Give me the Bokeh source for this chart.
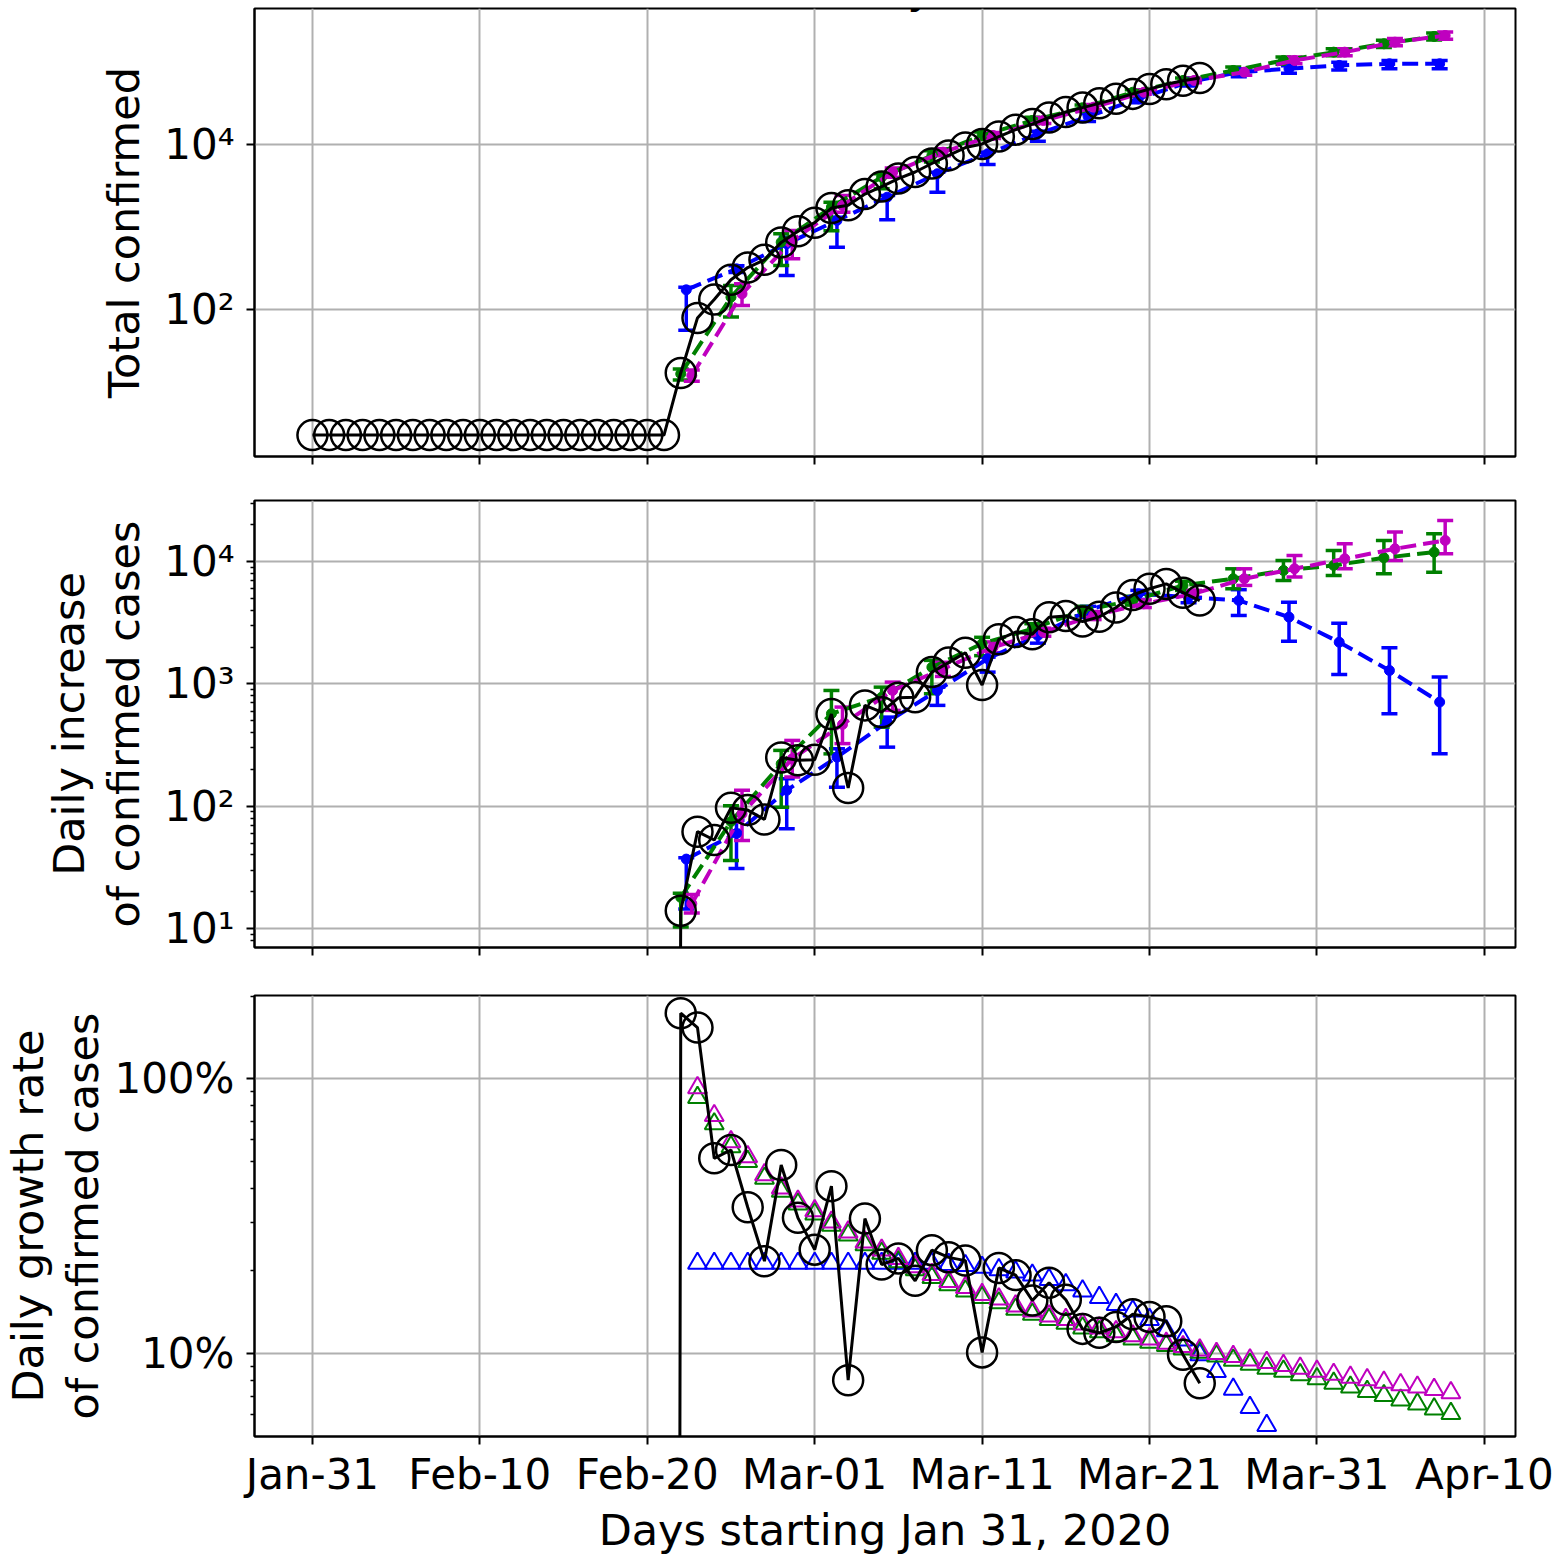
import numpy as np
from bokeh.plotting import figure
from bokeh.layouts import column
from bokeh.models import (FixedTicker, CustomJSTickFormatter, NumeralTickFormatter, Whisker,
                          TeeHead, ColumnDataSource, Range1d, Label)
from bokeh.embed import file_html
from bokeh.resources import INLINE

# ---------------- data ----------------
tick_days = [0, 10, 20, 30, 40, 50, 60, 70]
tick_labels = ["Jan-31", "Feb-10", "Feb-20", "Mar-01", "Mar-11", "Mar-21", "Mar-31", "Apr-10"]
country = "Italy"

# observed (black), day index 0 = Jan 31
obs_days = list(range(0, 54))
obs_total = [3, 3, 3, 3, 3, 3, 3, 3, 3, 3, 3, 3, 3, 3, 3, 3, 3, 3, 3, 3, 3, 3,
             17, 79, 132, 229, 322, 400, 650, 888, 1128, 1694, 1835, 2502, 3089, 3858,
             4636, 5883, 7375, 9172, 10149, 12462, 15113, 17660, 21157, 24747, 27980,
             31506, 35713, 41035, 47021, 53578, 59138, 63927]
inc_days = list(range(1, 54))
obs_daily = [0, 0, 0, 0, 0, 0, 0, 0, 0, 0, 0, 0, 0, 0, 0, 0, 0, 0, 0, 0, 0,
             14, 62, 53, 97, 93, 78, 250, 238, 240, 566, 141, 667, 587, 769, 778,
             1247, 1492, 1797, 977, 2313, 2651, 2547, 3497, 3590, 3233, 3526, 4207,
             5322, 5986, 6557, 5560, 4789]
obs_growth = [0, 0, 0, 0, 0, 0, 0, 0, 0, 0, 0, 0, 0, 0, 0, 0, 0, 0, 0, 0, 0,
              1.735, 1.537, 0.514, 0.551, 0.341, 0.217, 0.486, 0.312, 0.239, 0.407,
              0.080, 0.310, 0.211, 0.222, 0.184, 0.238, 0.224, 0.218, 0.101, 0.205,
              0.193, 0.156, 0.181, 0.157, 0.123, 0.119, 0.125, 0.139, 0.136, 0.131,
              0.099, 0.078]

# model predictions every 3 days
model_days = [22, 25, 28, 31, 34, 37, 40, 43, 46, 49, 52, 55, 58, 61, 64, 67]

blue_total = [173, 311, 626, 1200, 2296, 4418, 7715, 13480, 21800, 35800, 56900, 75200, 82700, 90800, 95000, 95000]
blue_total_lo = [56, 280, 258, 569, 1222, 2640, 5725, 10960, 19000, 32000, 51000, 66000, 73000, 80000, 83000, 83000]
blue_total_hi = [186, 340, 753, 1315, 2410, 4620, 8070, 14500, 23500, 39000, 62000, 82000, 90000, 99000, 104000, 104000]

green_total = [16.6, 141, 654, 1740, 4020, 7360, 12850, 19540, 27870, 43000, 59700, 78900, 104300, 131500, 166000, 203700]
green_total_lo = [14, 81, 341, 900, 2900, 6110, 11500, 17800, 25800, 40000, 56000, 71000, 94000, 119000, 150000, 184000]
green_total_hi = [19, 195, 827, 2000, 4420, 8400, 14200, 21300, 30000, 46000, 64000, 87000, 115000, 145000, 183000, 225000]

magenta_total = [15.8, 155, 686, 1820, 4620, 8070, 12850, 19540, 28300, 43000, 59700, 75200, 104300, 131500, 173800, 209000]
magenta_total_lo = [13.5, 112, 411, 1510, 4000, 7300, 11800, 18000, 26300, 40500, 56000, 69000, 95000, 119000, 157000, 189000]
magenta_total_hi = [18.5, 205, 907, 2410, 5200, 8900, 14000, 21200, 30500, 46000, 64000, 82000, 115000, 145000, 192000, 231000]

blue_daily = [37, 60, 135, 252, 487, 883, 1604, 2480, 3980, 5450, 5110, 4800, 3510, 2190, 1285, 710]
blue_daily_lo = [14.5, 31, 65.5, 143, 304, 667, 1247, 2150, 3500, 4900, 4600, 3620, 2230, 1195, 571, 269]
blue_daily_hi = [38, 77, 168, 295, 535, 940, 1652, 2650, 4300, 5800, 5600, 5880, 4650, 3130, 1970, 1135]

green_daily = [18, 75, 222, 570, 778, 1368, 2130, 2820, 3980, 4800, 6370, 7230, 8440, 9280, 10720, 11900]
green_daily_lo = [10.3, 36, 98, 268, 443, 830, 1700, 2450, 3600, 4400, 5800, 5980, 7000, 7690, 7940, 8180]
green_daily_hi = [19.5, 101, 286, 883, 940, 1555, 2400, 3100, 4300, 5200, 6900, 8710, 10190, 12300, 14850, 16830]

magenta_daily = [16, 87, 244, 466, 883, 1327, 1995, 2640, 3620, 4510, 5450, 7230, 8710, 10520, 12700, 14850]
magenta_daily_lo = [13.4, 52.5, 173, 325, 607, 1150, 1800, 2450, 3350, 4200, 5100, 6370, 7450, 8710, 10190, 11560]
magenta_daily_hi = [19, 135, 345, 646, 1033, 1500, 2200, 2850, 3900, 4850, 5800, 8710, 11190, 13950, 17370, 21600]

# model daily growth rates (triangles)
growth_days = list(range(23, 69))
magenta_growth = [0.928, 0.735, 0.590, 0.521, 0.448, 0.401, 0.359, 0.331, 0.301, 0.277, 0.255,
                  0.238, 0.222, 0.207, 0.194, 0.183, 0.174, 0.164, 0.158, 0.149, 0.143, 0.137,
                  0.133, 0.128, 0.124, 0.120, 0.116, 0.113, 0.109, 0.106, 0.103, 0.100, 0.0976,
                  0.0948, 0.0928, 0.0905, 0.0885, 0.0862, 0.0840, 0.0820, 0.0803, 0.0786,
                  0.0770, 0.0755, 0.0740, 0.0720]
green_growth = [0.855, 0.686, 0.566, 0.500, 0.435, 0.390, 0.350, 0.322, 0.293, 0.270, 0.249,
                0.232, 0.216, 0.202, 0.189, 0.178, 0.169, 0.160, 0.153, 0.145, 0.139, 0.133,
                0.129, 0.124, 0.120, 0.116, 0.113, 0.110, 0.107, 0.104, 0.101, 0.098, 0.0945,
                0.0915, 0.0885, 0.0862, 0.0837, 0.0810, 0.0780, 0.0755, 0.0728, 0.0703,
                0.0677, 0.0655, 0.0628, 0.0605]
blue_growth_days = list(range(23, 58))
blue_growth = [0.213, 0.213, 0.213, 0.213, 0.213, 0.213, 0.213, 0.213, 0.213, 0.213, 0.213,
               0.213, 0.213, 0.213, 0.213, 0.211, 0.209, 0.206, 0.202, 0.198, 0.193, 0.186,
               0.178, 0.169, 0.160, 0.151, 0.143, 0.133, 0.121, 0.112, 0.099, 0.086, 0.0741,
               0.0636, 0.0547]

# ---------------- styling ----------------
FONT = "DejaVu Sans"
TICK_FS = "42px"
LABEL_FS = "43px"
W = 1568
BLUE, GREEN, MAG, BLACK = "#0000ff", "#008000", "#bf00bf", "#000000"
GRID = "#b0b0b0"
x_range = Range1d(-3.46, 71.86)

sup_js = """
const sup = {'0':'\\u2070','1':'\\u00b9','2':'\\u00b2','3':'\\u00b3','4':'\\u2074',
             '5':'\\u2075','6':'\\u2076','7':'\\u2077','8':'\\u2078','9':'\\u2079','-':'\\u207b'};
const e = Math.round(Math.log10(tick));
return '10' + String(e).split('').map(c => sup[c]).join('');
"""


def make_fig(height, y_range, top, bottom, yticks, yminor, ylabel, show_xlabels, ylab_standoff):
    p = figure(width=W, height=height, y_axis_type="log", x_range=x_range, y_range=y_range,
               output_backend="svg", toolbar_location=None,
               min_border_left=252, min_border_right=53, min_border_top=top, min_border_bottom=bottom)
    p.background_fill_color = "white"
    p.border_fill_color = "white"
    p.outline_line_color = "black"
    p.outline_line_width = 2
    p.outline_line_alpha = 1

    xa = p.xaxis[0]
    xa.ticker = FixedTicker(ticks=tick_days)
    xa.major_label_overrides = {d: lab for d, lab in zip(tick_days, tick_labels)}
    xa.axis_line_color = "black"
    xa.axis_line_width = 2
    xa.major_tick_out = 8
    xa.major_tick_in = 0
    xa.major_tick_line_width = 2
    xa.minor_tick_line_color = None
    xa.major_label_text_font = FONT
    if show_xlabels:
        xa.major_label_text_font_size = TICK_FS
        xa.major_label_text_color = "black"
        xa.major_label_standoff = 5
        xa.axis_label = "Days starting Jan 31, 2020"
        xa.axis_label_text_font = FONT
        xa.axis_label_text_font_size = LABEL_FS
        xa.axis_label_text_font_style = "normal"
        xa.axis_label_text_color = "black"
        xa.axis_label_standoff = 3
    else:
        # shared date axis: tick marks only, labels shown on the bottom panel
        xa.major_label_text_font_size = "10px"
        xa.major_label_text_color = None
        xa.major_label_standoff = 0

    ya = p.yaxis[0]
    ya.ticker = FixedTicker(ticks=yticks, minor_ticks=yminor)
    ya.axis_line_color = "black"
    ya.axis_line_width = 2
    ya.major_tick_out = 8
    ya.major_tick_in = 0
    ya.major_tick_line_width = 2
    ya.minor_tick_out = 4
    ya.minor_tick_in = 0
    ya.minor_tick_line_width = 1.5
    ya.major_label_text_font = FONT
    ya.major_label_text_font_size = TICK_FS
    ya.major_label_text_color = "black"
    ya.major_label_standoff = 12
    ya.axis_label = ylabel
    ya.axis_label_text_font = FONT
    ya.axis_label_text_font_size = LABEL_FS
    ya.axis_label_text_font_style = "normal"
    ya.axis_label_text_color = "black"
    ya.axis_label_text_line_height = 1.1
    ya.axis_label_standoff = ylab_standoff

    p.xgrid.grid_line_color = GRID
    p.xgrid.grid_line_width = 2
    p.ygrid.grid_line_color = GRID
    p.ygrid.grid_line_width = 2
    return p


def add_model(p, days, offset, vals, lo, hi, color):
    x = np.array(days, dtype=float) + offset
    src = ColumnDataSource(dict(x=x, y=vals, lo=lo, hi=hi))
    p.line("x", "y", source=src, line_color=color, line_width=4, line_dash="16 7")
    w = Whisker(source=src, base="x", upper="hi", lower="lo", dimension="height",
                line_color=color, line_width=3.5,
                upper_head=TeeHead(size=16, line_color=color, line_width=3.5),
                lower_head=TeeHead(size=16, line_color=color, line_width=3.5))
    p.add_layout(w)
    p.scatter("x", "y", source=src, size=10, fill_color=color, line_color=color)


def floor_log(v):
    # zero values cannot sit on a log axis: clip them far below the visible range
    v = np.array(v, dtype=float)
    return np.where(v > 0, v, 1e-30)


offsets = {"green": 0.0, "blue": 0.33, "magenta": 0.66}

# ---------------- panel 1 ----------------
p1 = make_fig(478, Range1d(10 ** 0.218, 10 ** 5.648), 8, 22, [1e2, 1e4], [],
              "Total confirmed", False, 12)
p1.yaxis[0].formatter = CustomJSTickFormatter(code=sup_js)
add_model(p1, model_days, offsets["blue"], blue_total, blue_total_lo, blue_total_hi, BLUE)
add_model(p1, model_days, offsets["green"], green_total, green_total_lo, green_total_hi, GREEN)
add_model(p1, model_days, offsets["magenta"], magenta_total, magenta_total_lo, magenta_total_hi, MAG)
p1.line(obs_days, obs_total, line_color=BLACK, line_width=3)
p1.scatter(obs_days, obs_total, marker="circle", size=30, fill_color=None, line_color=BLACK, line_width=2.5)
# figure title, almost entirely above the top edge (only the descender shows)
p1.add_layout(Label(x=34.2, y=10 ** 5.90, text=country, text_align="center",
                    text_baseline="alphabetic", text_font=FONT, text_font_size="45px",
                    text_color="black"))

# ---------------- panel 2 ----------------
minor2 = [m * 10 ** e for e in range(0, 5) for m in range(2, 10)]
p2 = make_fig(493, Range1d(10 ** 0.846, 10 ** 4.498), 22, 24, [1e1, 1e2, 1e3, 1e4], minor2,
              "Daily increase\nof confirmed cases", False, 12)
p2.yaxis[0].formatter = CustomJSTickFormatter(code=sup_js)
add_model(p2, model_days, offsets["blue"], blue_daily, blue_daily_lo, blue_daily_hi, BLUE)
add_model(p2, model_days, offsets["green"], green_daily, green_daily_lo, green_daily_hi, GREEN)
add_model(p2, model_days, offsets["magenta"], magenta_daily, magenta_daily_lo, magenta_daily_hi, MAG)
p2.line(inc_days, floor_log(obs_daily), line_color=BLACK, line_width=3)
pos = np.array(obs_daily) > 0
p2.scatter(np.array(inc_days)[pos], np.array(obs_daily)[pos], marker="circle", size=30,
           fill_color=None, line_color=BLACK, line_width=2.5)

# ---------------- panel 3 ----------------
minor3 = [0.06, 0.07, 0.08, 0.09, 0.2, 0.3, 0.4, 0.5, 0.6, 0.7, 0.8, 0.9, 2.0]
p3 = make_fig(586, Range1d(0.0499, 2.012), 24, 117, [0.1, 1.0], minor3,
              "Daily growth rate\nof confirmed cases", True, 3)
p3.yaxis[0].formatter = NumeralTickFormatter(format="0%")
p3.scatter(blue_growth_days, blue_growth, marker="triangle", size=19, fill_color=None,
           line_color=BLUE, line_width=2)
p3.scatter(growth_days, green_growth, marker="triangle", size=19, fill_color=None,
           line_color=GREEN, line_width=2)
p3.scatter(growth_days, magenta_growth, marker="triangle", size=19, fill_color=None,
           line_color=MAG, line_width=2)
p3.line(inc_days, floor_log(obs_growth), line_color=BLACK, line_width=3)
posg = np.array(obs_growth) > 0
p3.scatter(np.array(inc_days)[posg], np.array(obs_growth)[posg], marker="circle", size=30,
           fill_color=None, line_color=BLACK, line_width=2.5)

layout = column(p1, p2, p3, spacing=0)
open("out.html", "w").write(file_html(layout, INLINE))
